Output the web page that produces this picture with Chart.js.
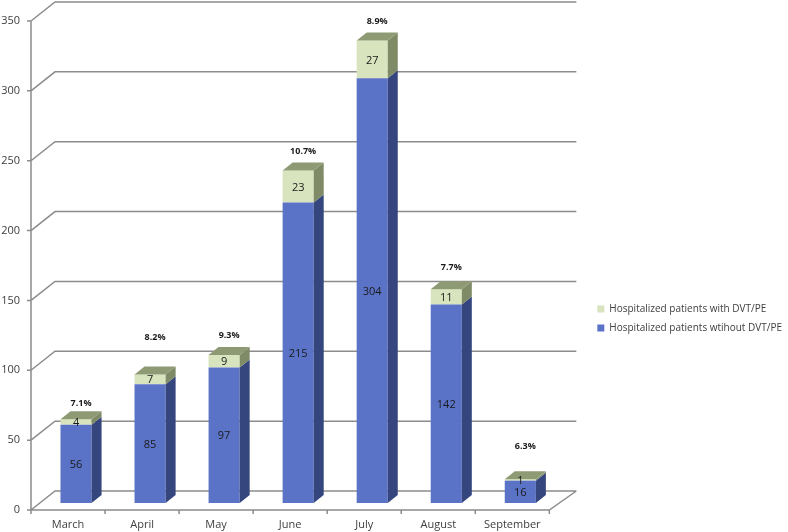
<!DOCTYPE html>
<html>
<head>
<meta charset="utf-8">
<script src="https://cdn.jsdelivr.net/npm/chart.js@4.4.1/dist/chart.umd.min.js"></script>
<style>
  html, body { margin: 0; padding: 0; background: #fff; }
</style>
</head>
<body>
<canvas id="myChart" width="788" height="532"></canvas>
<script>
// data
const months = ["March", "April", "May", "June", "July", "August", "September"];
const withoutDvt = [56, 85, 97, 215, 304, 142, 16];
const withDvt = [4, 7, 9, 23, 27, 11, 1];
const percentLabels = ["7.1%", "8.2%", "9.3%", "10.7%", "8.9%", "7.7%", "6.3%"];
// how far each percent label sits above its bar (hand placed in the original)
const percentLift = [8, 29, 11, 11, 11, 14, 25];

// fake 3d geometry
const SHIFT = { x: 8, y: -7 };    // bar front plane, seen from the front axis
const DEPTH = { x: 10, y: -8 };   // bar thickness
const WALL = { x: 24, y: -19 };   // back wall

const lineGrey = '#8c8c8c';

const fake3d = {
    id: 'fake3d',
    beforeDatasetsDraw(chart) {
        const ctx = chart.ctx;
        const xs = chart.scales.x;
        const ys = chart.scales.y;
        const left = xs.left, right = xs.right, bottom = ys.bottom;

        ctx.save();
        ctx.strokeStyle = lineGrey;
        ctx.lineWidth = 1.5;
        ctx.beginPath();
        ys.ticks.forEach(t => {
            const py = ys.getPixelForValue(t.value);
            // side wall diagonal + back wall gridline
            ctx.moveTo(left, py);
            ctx.lineTo(left + WALL.x, py + WALL.y);
            ctx.lineTo(right + WALL.x + 3, py + WALL.y);
            // small tick mark
            ctx.moveTo(left - 4, py);
            ctx.lineTo(left, py);
        });
        // front value axis
        ctx.moveTo(left, ys.top);
        ctx.lineTo(left, bottom);
        // floor front edge and right edge
        ctx.moveTo(left, bottom);
        ctx.lineTo(right, bottom);
        ctx.lineTo(right + WALL.x + 3, bottom + WALL.y);
        // category tick marks
        const step = (right - left) / months.length;
        for (let i = 0; i <= months.length; i++) {
            const px = left + i * step;
            ctx.moveTo(px, bottom);
            ctx.lineTo(px, bottom + 4);
        }
        ctx.stroke();
        ctx.restore();

        // bars are drawn a bit into the depth
        ctx.save();
        ctx.translate(SHIFT.x, SHIFT.y);
    },
    afterDatasetsDraw(chart) {
        const ctx = chart.ctx;
        const sideColors = ['#35467e', '#7f8a66'];
        const lastIdx = chart.data.datasets.length - 1;

        chart.data.datasets.forEach((ds, di) => {
            const meta = chart.getDatasetMeta(di);
            meta.data.forEach(el => {
                const p = el.getProps(['x', 'y', 'base', 'width'], true);
                const lx = p.x - p.width / 2;
                const rx = p.x + p.width / 2;
                // side face
                ctx.fillStyle = sideColors[di];
                ctx.beginPath();
                ctx.moveTo(rx, p.y);
                ctx.lineTo(rx + DEPTH.x, p.y + DEPTH.y);
                ctx.lineTo(rx + DEPTH.x, p.base + DEPTH.y);
                ctx.lineTo(rx, p.base);
                ctx.closePath();
                ctx.fill();
                // top face, only on the top segment
                if (di === lastIdx) {
                    ctx.fillStyle = '#8e9a74';
                    ctx.beginPath();
                    ctx.moveTo(lx, p.y);
                    ctx.lineTo(lx + DEPTH.x, p.y + DEPTH.y);
                    ctx.lineTo(rx + DEPTH.x, p.y + DEPTH.y);
                    ctx.lineTo(rx, p.y);
                    ctx.closePath();
                    ctx.fill();
                }
            });
        });

        // value labels in the middle of each segment
        ctx.fillStyle = '#1a1a1a';
        ctx.textAlign = 'center';
        ctx.textBaseline = 'middle';
        ctx.font = '11px "Open Sans", sans-serif';
        chart.data.datasets.forEach((ds, di) => {
            chart.getDatasetMeta(di).data.forEach((el, i) => {
                const p = el.getProps(['x', 'y', 'base'], true);
                ctx.fillText(String(ds.data[i]), p.x, (p.y + p.base) / 2 + 1);
            });
        });

        // percent labels above each bar
        ctx.font = 'bold 9px "Open Sans", sans-serif';
        chart.getDatasetMeta(lastIdx).data.forEach((el, i) => {
            const p = el.getProps(['x', 'y'], true);
            ctx.fillText(percentLabels[i], p.x + DEPTH.x / 2, p.y + DEPTH.y - percentLift[i]);
        });

        ctx.restore();
    }
};

Chart.defaults.font.family = '"Open Sans", sans-serif';
Chart.defaults.color = '#404040';

new Chart("myChart", {
    type: "bar",
    data: {
        labels: months,
        datasets: [{
            label: "Hospitalized patients wtihout DVT/PE",
            data: withoutDvt,
            backgroundColor: "#5b73c7",
            borderWidth: 0,
            barPercentage: 0.42,
            categoryPercentage: 1,
            clip: false
        }, {
            label: "Hospitalized patients with DVT/PE",
            data: withDvt,
            backgroundColor: "#d7e4bd",
            borderWidth: 0,
            barPercentage: 0.42,
            categoryPercentage: 1,
            clip: false
        }]
    },
    options: {
        responsive: false,
        animation: false,
        layout: {
            padding: { top: 21, left: 0, right: -4, bottom: 0 }
        },
        scales: {
            x: {
                stacked: true,
                grid: { display: false, drawTicks: false },
                border: { display: false },
                ticks: { padding: 8, maxRotation: 0, autoSkip: false, font: { size: 11 } },
                afterFit(s) { s.height = 22; }
            },
            y: {
                stacked: true,
                min: 0,
                max: 350,
                grid: { display: false, drawTicks: false },
                border: { display: false },
                ticks: { stepSize: 50, padding: 11, font: { size: 11 } },
                afterFit(s) { s.width = 31; }
            },
            gap: {
                type: 'linear',
                position: 'right',
                grid: { display: false, drawTicks: false },
                border: { display: false },
                ticks: { display: false },
                afterFit(s) { s.width = 39; }
            }
        },
        plugins: {
            legend: {
                position: 'right',
                reverse: true,
                maxWidth: 230,
                title: { display: true, text: '', padding: { top: 72, bottom: 0 }, font: { size: 10 } },
                labels: {
                    boxWidth: 7,
                    boxHeight: 7,
                    padding: 9,
                    color: '#404040',
                    font: { size: 10 }
                }
            },
            tooltip: { enabled: false }
        }
    },
    plugins: [fake3d]
});
</script>
</body>
</html>
